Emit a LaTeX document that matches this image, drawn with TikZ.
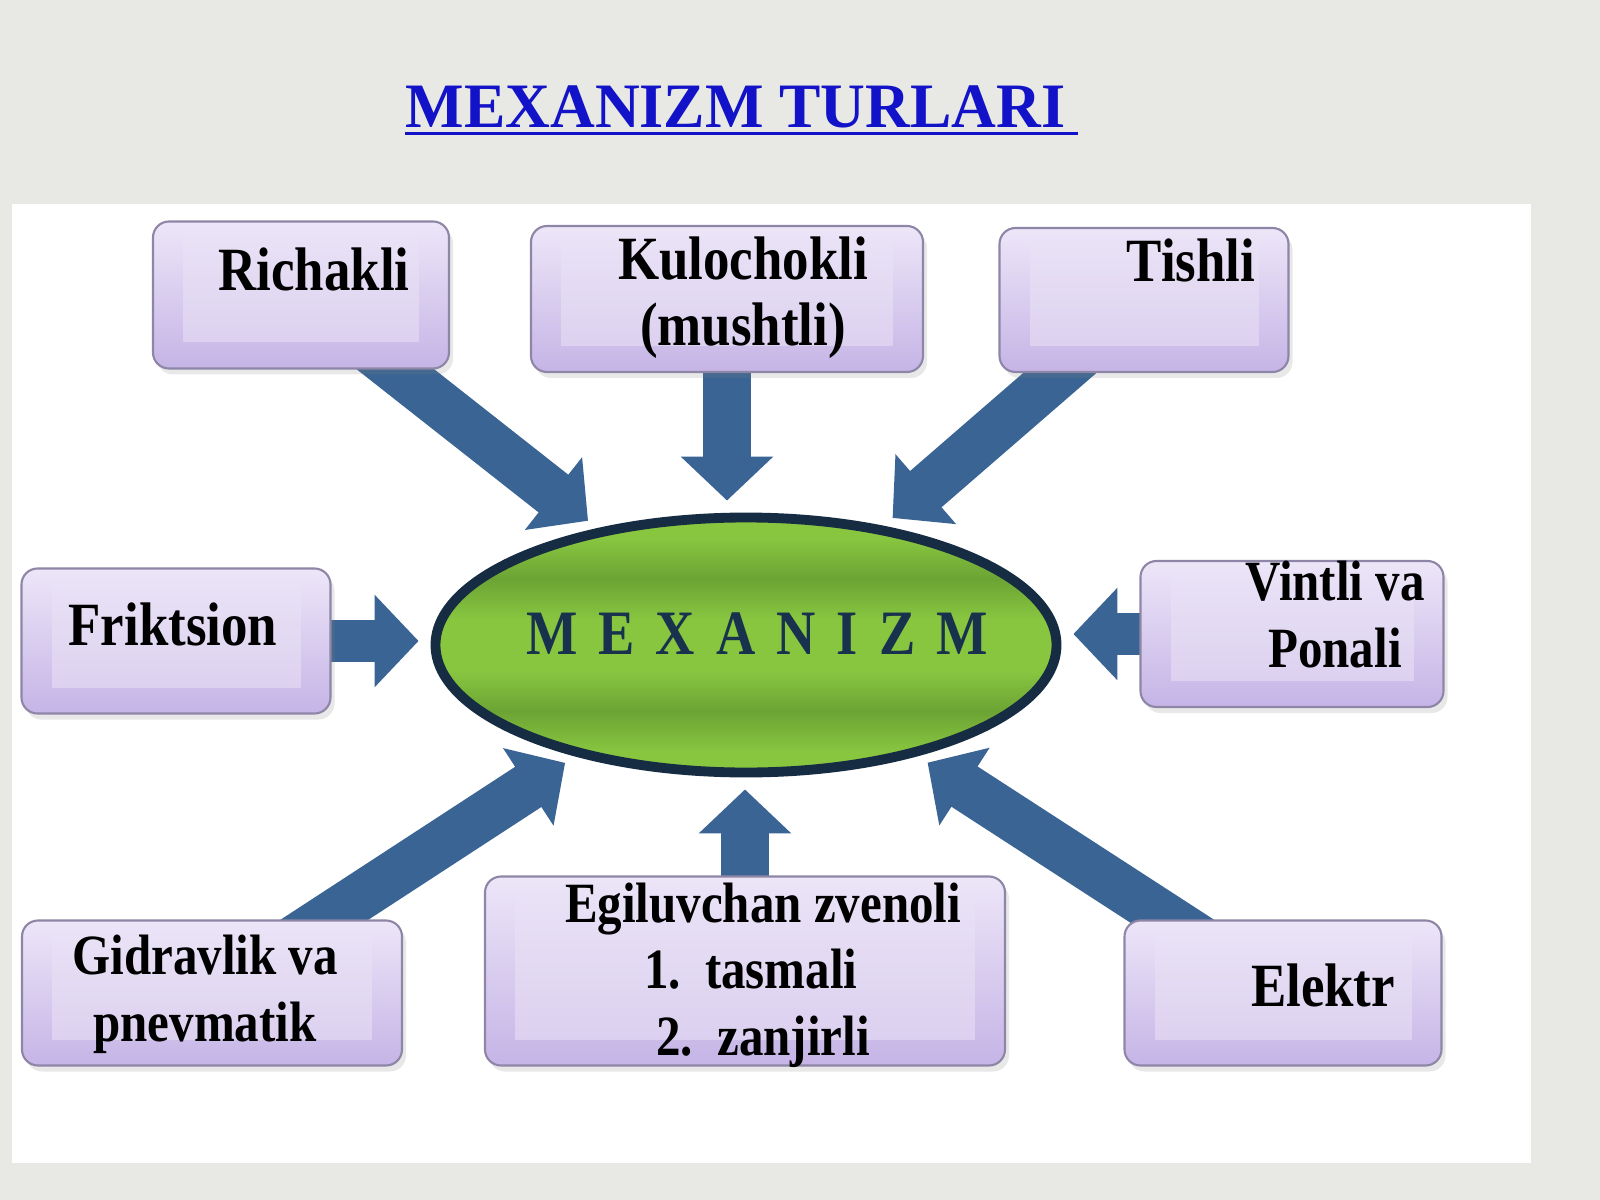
\documentclass[tikz,border=0pt]{standalone}
\usepackage{fontspec}
\setmainfont{Liberation Serif}[FakeStretch=0.86]
\newfontfamily\titlefont{Liberation Serif}[FakeStretch=0.98]
\usepackage{tikz}
\usetikzlibrary{arrows.meta,shapes.geometric,shadows}

\definecolor{paper}{RGB}{232,232,228}
\definecolor{titleblue}{RGB}{18,18,200}
\definecolor{arrowblue}{RGB}{58,100,148}
\definecolor{boxtop}{RGB}{237,230,248}
\definecolor{boxbot}{RGB}{197,180,230}
\definecolor{boxglow}{RGB}{234,227,246}
\definecolor{boxline}{RGB}{142,134,166}
\definecolor{leaflight}{RGB}{136,198,64}
\definecolor{leafdark}{RGB}{108,164,52}
\definecolor{rimnavy}{RGB}{22,44,66}
\definecolor{textnavy}{RGB}{24,50,78}

\pgfdeclareverticalshading{leaf}{100bp}{color(0bp)=(leaflight); color(29bp)=(leaflight); color(37bp)=(leafdark); color(45bp)=(leaflight); color(55bp)=(leaflight); color(63bp)=(leafdark); color(71bp)=(leaflight); color(100bp)=(leaflight)}

\pgfdeclarelayer{paperlayer}
\pgfdeclarelayer{feedlayer}
\pgfsetlayers{paperlayer,feedlayer,main}

\newcommand{\lsp}{\hspace{6pt}}

\begin{document}
\begin{tikzpicture}[x=0.1mm, y=-0.1mm,
    typebox/.style={draw=boxline, line width=0.6pt, rounded corners=1.6mm, top color=boxtop, bottom color=boxbot, inner sep=0pt,
        drop shadow={shadow xshift=0.4mm, shadow yshift=-0.6mm, opacity=0.18},
        path picture={\fill[boxglow, opacity=0.55, sharp corners] ([xshift=3mm,yshift=-1.2mm]path picture bounding box.north west) rectangle ([xshift=-3mm,yshift=2.6mm]path picture bounding box.south east);}},
    typetext/.style={font=\bfseries\fontsize{17.5}{18.8}\selectfont, align=center, anchor=base, inner sep=0pt},
    smalltext/.style={typetext, font=\bfseries\fontsize{16.2}{18.8}\selectfont},
    mech/.style={ellipse, draw=rimnavy, line width=2.8pt, shade, shading=leaf, minimum width=62.1mm, minimum height=25.5mm, inner sep=0pt},
    feed/.style={draw=arrowblue, line width=4.8mm, -{Triangle[width=9mm,length=4.4mm]}, shorten >=1.2mm}]
        \useasboundingbox (0,0) rectangle (1600,1200);
        \begin{pgfonlayer}{paperlayer}
            \fill[paper] (0,0) rectangle (1600,1200);
            \fill[white] (12,204) rectangle (1531,1163);
        \end{pgfonlayer}
        % title
        \node[font=\titlefont\bfseries\fontsize{18}{22}\selectfont, text=titleblue, anchor=base west, inner sep=0pt] (title) at (405,128) {MEXANIZM TURLARI};
        \draw[titleblue, line width=0.3mm] ([yshift=-0.55mm]title.base west) -- ++(673,0);
        % centre
        \node[mech] (mech) at (746,645) {};
        \node[font=\bfseries\fontsize{18}{20}\selectfont, text=textnavy, anchor=base, inner sep=0pt] (mechtxt) at (757,654) {M\lsp E\lsp X\lsp A\lsp N\lsp I\lsp Z\lsp M};
        % boxes
        \node[typebox, minimum width=29.6mm, minimum height=14.7mm] (rich) at (301,295) {};
        \node[typebox, minimum width=39.2mm, minimum height=14.6mm] (kul) at (727,299) {};
        \node[typebox, minimum width=28.9mm, minimum height=14.4mm] (tish) at (1144,300) {};
        \node[typebox, minimum width=30.9mm, minimum height=14.5mm] (frik) at (176,641) {};
        \node[typebox, minimum width=30.3mm, minimum height=14.6mm] (vint) at (1292,634) {};
        \node[typebox, minimum width=38mm, minimum height=14.5mm] (gidr) at (212,993) {};
        \node[typebox, minimum width=52mm, minimum height=18.9mm] (egil) at (745,971) {};
        \node[typebox, minimum width=31.7mm, minimum height=14.5mm] (elek) at (1283,993) {};
        % labels (base = last line)
        \node[typetext] (richtxt) at (314,291) {Richakli};
        \node[typetext] (kultxt) at (743,346) {Kulochokli\\(mushtli)};
        \node[typetext] (tishtxt) at (1191,282) {Tishli};
        \node[typetext] (friktxt) at (173,645) {Friktsion};
        \node[smalltext] (vinttxt) at (1335,667) {Vintli va\\Ponali};
        \node[smalltext] (gidrtxt) at (205,1041) {Gidravlik va\\pnevmatik};
        \node[smalltext] (egiltxt) at (763,1055) {Egiluvchan zvenoli\\1.~~tasmali\hphantom{x}\\2.~~zanjirli};
        \node[typetext] (elektxt) at (1323,1006) {Elektr};
        % arrows
        \begin{pgfonlayer}{feedlayer}
            \draw[feed] (rich.center) -- (mech);
            \draw[feed] (kul.center) -- (kul.center |- mech.north);
            \draw[feed] (tish.center) -- (mech);
            \draw[feed, line width=4.2mm] (frik.center) -- (frik.center -| mech.west);
            \draw[feed, line width=4.2mm] (vint.center) -- (vint.center -| mech.east);
            \draw[feed] (gidr.center) -- (mech);
            \draw[feed] (egil.center) -- (egil.center |- mech.south);
            \draw[feed] (elek.center) -- (mech);
        \end{pgfonlayer}
    \end{tikzpicture}
\end{document}
